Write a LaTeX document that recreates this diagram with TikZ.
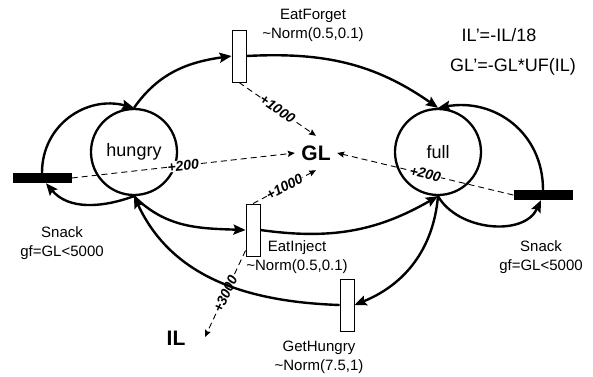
\documentclass[tikz,border=0pt]{standalone}
\usepackage{fontspec}
\setmainfont{Liberation Sans}
\usetikzlibrary{arrows.meta}

\begin{document}
\begin{tikzpicture}[x=1pt,y=1pt,
  place/.style={circle,draw,line width=2.3pt,minimum size=86pt,inner sep=0pt,
    font=\fontsize{18}{18}\selectfont},
  trans/.style={rectangle,draw,line width=0.9pt,fill=white,
    minimum width=14pt,minimum height=52pt,inner sep=0pt},
  snackbar/.style={rectangle,fill=black,minimum width=59pt,minimum height=10pt,inner sep=0pt},
  var/.style={font=\fontsize{21}{21}\bfseries\selectfont,inner sep=0pt},
  arc/.style={line width=2.4pt,-{Stealth[length=12pt,width=10pt,inset=2pt]}},
  inh/.style={dash pattern=on 6pt off 4pt,line width=0.9pt,
    -{Stealth[length=7pt,width=6pt,inset=1pt]}},
  wlabel/.style={font=\fontsize{15}{19}\selectfont,align=center,inner sep=0pt},
  eqn/.style={font=\fontsize{18}{18}\selectfont,inner sep=0pt},
  wt/.style={font=\fontsize{14}{14}\bfseries\itshape\selectfont,fill=white,inner sep=0.4pt},
  ]
\useasboundingbox (0,0) rectangle (593,-376);

% places
\node[place] (hungry) at (134,-152) {hungry};
\node[place] (full)   at (438,-152) {full};

% transitions
\node[trans] (eatF) at (239,-56)  {};
\node[trans] (eatI) at (253,-230) {};
\node[trans] (getH) at (347,-305) {};
\node[snackbar] (snackL) at (42,-178)  {};
\node[snackbar] (snackR) at (543,-195) {};

% continuous variables
\node[var,minimum width=42pt,minimum height=34pt] (GL) at (316,-153) {GL};
\node[var] (IL) at (176,-338) {IL};
\coordinate (ILtip) at (205,-337);

% transition labels
\node[wlabel] (eatFlab) at (313,-25)  {EatForget\\\textasciitilde Norm(0.5,0.1)};
\node[wlabel] (eatIlab) at (297,-257) {EatInject\\\textasciitilde Norm(0.5,0.1)};
\node[wlabel] (getHlab) at (319,-357) {GetHungry\\\textasciitilde Norm(7.5,1)};
\node[wlabel] (snackLlab) at (62,-243)  {Snack\\gf=GL<5000};
\node[wlabel] (snackRlab) at (541,-257) {Snack\\gf=GL<5000};

% rate equations
\node[eqn] (eq1) at (499,-35) {IL'=-IL/18};
\node[eqn] (eq2) at (513,-67) {GL'=-GL*UF(IL)};

% effects on the continuous variables
\draw[inh] (eatF.south) -- node[wt,sloped] {+1000} (GL.north);
\draw[inh] (snackL.east) -- node[wt,sloped] {+200} (GL.west);
\draw[inh] (eatI.north) -- node[wt,sloped] {+1000} (GL.south);
\draw[inh] (snackR.west) -- node[wt,sloped] {+200} (GL.east);
\draw[inh] ([yshift=6pt]eatI.south west) -- node[wt,sloped] {+3000} (ILtip);

% arcs of the net
\draw[arc] (hungry.north) to[out=55,in=188] (eatF.west);
\draw[arc] (eatF.east) to[out=3,in=145] (full.north);
\draw[arc] (snackL.north) to[out=90,in=165,looseness=1.1] (hungry.north);
\draw[arc] (hungry.south) to[out=200,in=-50] ([xshift=4pt]snackL.south);
\draw[arc] (snackR.north) to[out=90,in=10,looseness=1.1] (full.north);
\draw[arc] (full.south) to[out=-60,in=-115] ([xshift=-2pt]snackR.south);
\draw[arc] (hungry.south) to[out=-45,in=178] (eatI.west);
\draw[arc] (eatI.east) to[out=-8,in=-150] (full.south);
\draw[arc] (full.south) to[out=-95,in=22] (getH.east);
\draw[arc] (getH.west) to[out=178,in=-65] (hungry.south);
\end{tikzpicture}
\end{document}
